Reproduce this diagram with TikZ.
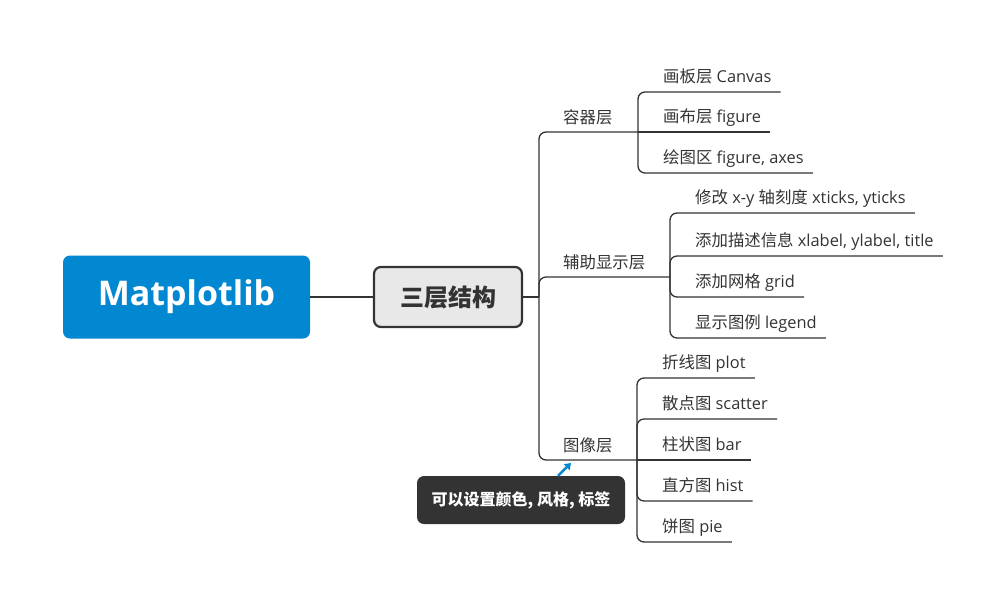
\documentclass[tikz,border=0pt]{standalone}
\usepackage{fontspec}
\setmainfont{Open Sans}
\newfontfamily\cjk{Noto Sans CJK SC}
\usetikzlibrary{arrows.meta,calc}
\definecolor{mblue}{HTML}{0288D1}
\definecolor{ink}{HTML}{333333}
\definecolor{boxfill}{HTML}{E8E8E8}
\begin{document}
\begin{tikzpicture}[x=1pt,y=-1pt,
  conn/.style={draw=ink,line width=1.3pt,rounded corners=7pt},
  mainconn/.style={draw=ink,line width=2pt},
  leaf/.style={anchor=south west,inner xsep=9pt,inner ysep=0pt,text height=13pt,text depth=9pt,
    font=\fontsize{16.4}{19}\selectfont,text=ink},
  branch/.style={leaf,inner xsep=8pt,text depth=8pt},
  root/.style={fill=mblue,rounded corners=7pt,minimum width=247pt,minimum height=83pt,
    text=white,font=\fontsize{34}{40}\selectfont\bfseries,inner sep=0pt},
  hub/.style={fill=boxfill,draw=ink,line width=2.2pt,rounded corners=7pt,minimum width=148pt,
    minimum height=60pt,font=\cjk\fontsize{24}{28}\selectfont\bfseries,text=ink,inner sep=0pt},
  callout/.style={fill=ink,rounded corners=7pt,minimum width=208pt,minimum height=48pt,
    text=white,font=\cjk\fontsize{16}{19}\selectfont\bfseries,inner sep=0pt},
  callarrow/.style={draw=mblue,line width=2.5pt,-{Triangle[length=6pt,width=8pt]}}
]
\useasboundingbox (0,0) rectangle (1006,606);

\node[root] (mp) at (186.5,297) {Matplotlib};
\node[hub] (hub) at (448,297) {三层结构};
\coordinate (t) at (539,297);
\draw[mainconn] (mp.east) -- (hub.west);
\draw[mainconn] (hub.east) -- (t);

% branch 1
\coordinate (b1) at (638,132);
\node[branch] (p1) at (555,132) {\cjk 容器层};
\draw[conn] (t) |- (b1);
\node[leaf] (c11) at (654,92) {{\cjk 画板层} Canvas};
\node[leaf] (c12) at (654,132) {{\cjk 画布层} figure};
\node[leaf] (c13) at (654,173) {{\cjk 绘图区} figure, axes};
\draw[conn] (b1) |- (c11.south east);
\draw[conn] (b1) -- (c12.south east);
\draw[conn] (b1) |- (c13.south east);

% branch 2
\coordinate (b2) at (670,277);
\node[branch] (p2) at (555,277) {\cjk 辅助显示层};
\draw[conn] (t) |- (b2);
\node[leaf] (c21) at (686,213) {{\cjk 修改} x-y {\cjk 轴刻度} xticks, yticks};
\node[leaf] (c22) at (686,256) {{\cjk 添加描述信息} xlabel, ylabel, title};
\node[leaf] (c23) at (686,297) {{\cjk 添加网格} grid};
\node[leaf] (c24) at (686,338) {{\cjk 显示图例} legend};
\draw[conn] (b2) |- (c21.south east);
\draw[conn] (b2) |- (c22.south east);
\draw[conn] (b2) |- (c23.south east);
\draw[conn] (b2) |- (c24.south east);

% branch 3
\coordinate (b3) at (637,460);
\node[branch] (p3) at (555,460) {\cjk 图像层};
\draw[conn] (t) |- (b3);
\node[leaf] (c31) at (653,378) {{\cjk 折线图} plot};
\node[leaf] (c32) at (653,419) {{\cjk 散点图} scatter};
\node[leaf] (c33) at (653,460) {{\cjk 柱状图} bar};
\node[leaf] (c34) at (653,501) {{\cjk 直方图} hist};
\node[leaf] (c35) at (653,542) {{\cjk 饼图} pie};
\draw[conn] (b3) |- (c31.south east);
\draw[conn] (b3) |- (c32.south east);
\draw[conn] (b3) -- (c33.south east);
\draw[conn] (b3) |- (c34.south east);
\draw[conn] (b3) |- (c35.south east);

% callout
\node[callout] (call) at (521,500) {可以设置颜色, 风格, 标签};
\coordinate (ah) at (571,463);
\draw[callarrow] ($(call.north)+(37,0)$) -- (ah);
\end{tikzpicture}
\end{document}
